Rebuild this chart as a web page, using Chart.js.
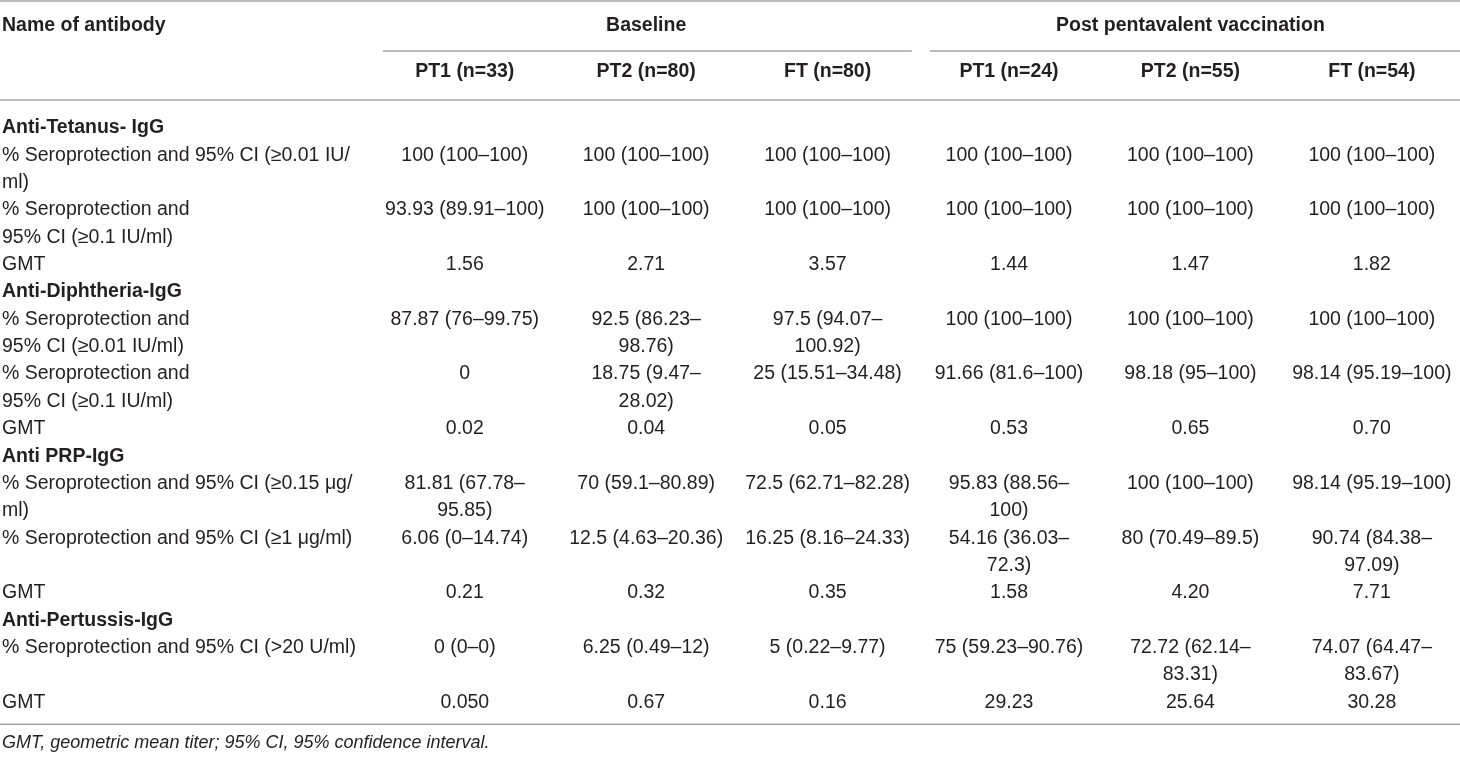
<!DOCTYPE html>
<html>
<head>
<meta charset="utf-8">
<script src="https://cdn.jsdelivr.net/npm/chart.js@4.4.1/dist/chart.umd.min.js"></script>
<style>
    html, body { margin: 0; padding: 0; background: #ffffff; }
    #wrap { width: 1460px; height: 757px; position: relative; }
</style>
</head>
<body>
<div id="wrap"><canvas id="antibodyTable"></canvas></div>
<script>
// table content
const nameHeader = 'Name of antibody';
const groups = ['Baseline', 'Post pentavalent vaccination'];
const columns = ['PT1 (n=33)', 'PT2 (n=80)', 'FT (n=80)', 'PT1 (n=24)', 'PT2 (n=55)', 'FT (n=54)'];
const antibodies = ['Anti-Tetanus- IgG', 'Anti-Diphtheria-IgG', 'Anti PRP-IgG', 'Anti-Pertussis-IgG'];
const footnote = 'GMT, geometric mean titer; 95% CI, 95% confidence interval.';

const tetanusLabels = ['% Seroprotection and 95% CI (\u22650.01 IU/\nml)', '% Seroprotection and\n95% CI (\u22650.1 IU/ml)', 'GMT'];
const tetanusSeroLow = ['100 (100–100)', '100 (100–100)', '100 (100–100)', '100 (100–100)', '100 (100–100)', '100 (100–100)'];
const tetanusSeroHigh = ['93.93 (89.91–100)', '100 (100–100)', '100 (100–100)', '100 (100–100)', '100 (100–100)', '100 (100–100)'];
const tetanusGMT = ['1.56', '2.71', '3.57', '1.44', '1.47', '1.82'];

const diphLabels = ['% Seroprotection and\n95% CI (\u22650.01 IU/ml)', '% Seroprotection and\n95% CI (\u22650.1 IU/ml)', 'GMT'];
const diphSeroLow = ['87.87 (76–99.75)', '92.5 (86.23–\n98.76)', '97.5 (94.07–\n100.92)', '100 (100–100)', '100 (100–100)', '100 (100–100)'];
const diphSeroHigh = ['0', '18.75 (9.47–\n28.02)', '25 (15.51–34.48)', '91.66 (81.6–100)', '98.18 (95–100)', '98.14 (95.19–100)'];
const diphGMT = ['0.02', '0.04', '0.05', '0.53', '0.65', '0.70'];

const prpLabels = ['% Seroprotection and 95% CI (\u22650.15 \u03bcg/\nml)', '% Seroprotection and 95% CI (\u22651 \u03bcg/ml)', 'GMT'];
const prpSeroLow = ['81.81 (67.78–\n95.85)', '70 (59.1–80.89)', '72.5 (62.71–82.28)', '95.83 (88.56–\n100)', '100 (100–100)', '98.14 (95.19–100)'];
const prpSeroHigh = ['6.06 (0–14.74)', '12.5 (4.63–20.36)', '16.25 (8.16–24.33)', '54.16 (36.03–\n72.3)', '80 (70.49–89.5)', '90.74 (84.38–\n97.09)'];
const prpGMT = ['0.21', '0.32', '0.35', '1.58', '4.20', '7.71'];

const pertLabels = ['% Seroprotection and 95% CI (>20 U/ml)', 'GMT'];
const pertSero = ['0 (0–0)', '6.25 (0.49–12)', '5 (0.22–9.77)', '75 (59.23–90.76)', '72.72 (62.14–\n83.31)', '74.07 (64.47–\n83.67)'];
const pertGMT = ['0.050', '0.67', '0.16', '29.23', '25.64', '30.28'];

const sections = [
    { name: antibodies[0], labels: tetanusLabels, rows: [tetanusSeroLow, tetanusSeroHigh, tetanusGMT] },
    { name: antibodies[1], labels: diphLabels, rows: [diphSeroLow, diphSeroHigh, diphGMT] },
    { name: antibodies[2], labels: prpLabels, rows: [prpSeroLow, prpSeroHigh, prpGMT] },
    { name: antibodies[3], labels: pertLabels, rows: [pertSero, pertGMT] }
];

// layout in scale units: x = column index (1..6), y = text line index
const X_MIN = -1.562, X_MAX = 6.486;
const Y_MIN = -4.68, Y_MAX = 23.0;
const LABEL_X = -1.551;
const HEAD_Y = -3.76, SUB_Y = -2.07;
const RULE_TOP = -4.64, RULE_GROUP = -2.815, RULE_HEAD = -1.024, RULE_BOTTOM = 21.8;
const NOTE_Y = 22.49;

const FONT = '"Liberation Sans", Arial, Helvetica, sans-serif';
const FONT_SIZE = 19.5;
const NOTE_SIZE = 18;
const TEXT_COLOR = '#231f20';
const RULE_COLOR = '#a3a3a3';

// build the points
const headingPoints = [];
const labelPoints = [];
const cellPoints = columns.map(() => []);
let line = 0;
sections.forEach(sec => {
    headingPoints.push({ x: LABEL_X, y: line, text: sec.name });
    line += 1;
    sec.rows.forEach((values, r) => {
        const label = sec.labels[r];
        labelPoints.push({ x: LABEL_X, y: line, text: label });
        let span = label.split('\n').length;
        values.forEach((v, c) => {
            cellPoints[c].push({ x: c + 1, y: line, text: v });
            span = Math.max(span, v.split('\n').length);
        });
        line += span;
    });
});

headingPoints.push({ x: LABEL_X, y: HEAD_Y, text: nameHeader });
const groupPoints = [
    { x: 2, y: HEAD_Y, text: groups[0] },
    { x: 5, y: HEAD_Y, text: groups[1] }
];
const columnPoints = columns.map((c, i) => ({ x: i + 1, y: SUB_Y, text: c }));
const notePoints = [{ x: LABEL_X, y: NOTE_Y, text: footnote }];

function textSet(points, align, style, size) {
    return { data: points, pointRadius: 0, showLine: false, textAlign: align, textStyle: style, textSize: size || FONT_SIZE };
}
function ruleSet(x0, x1, y) {
    return {
        data: [{ x: x0, y: y }, { x: x1, y: y }],
        showLine: true, pointRadius: 0, borderColor: RULE_COLOR, borderWidth: 1.5
    };
}

const datasets = [
    ruleSet(X_MIN, X_MAX, RULE_TOP),
    ruleSet(0.549, 3.465, RULE_GROUP),
    ruleSet(3.564, X_MAX, RULE_GROUP),
    ruleSet(X_MIN, X_MAX, RULE_HEAD),
    ruleSet(X_MIN, X_MAX, RULE_BOTTOM),
    textSet(headingPoints, 'left', 'bold'),
    textSet(groupPoints, 'center', 'bold'),
    textSet(columnPoints, 'center', 'bold'),
    textSet(labelPoints, 'left', 'normal'),
    textSet(notePoints, 'left', 'italic', NOTE_SIZE)
];
cellPoints.forEach(pts => datasets.push(textSet(pts, 'center', 'normal')));

const tableText = {
    id: 'tableText',
    afterDatasetsDraw(chart) {
        const ctx = chart.ctx;
        const yScale = chart.scales.y;
        const step = Math.abs(yScale.getPixelForValue(1) - yScale.getPixelForValue(0));
        ctx.save();
        ctx.fillStyle = TEXT_COLOR;
        ctx.textBaseline = 'middle';
        chart.data.datasets.forEach((ds, i) => {
            if (!ds.textStyle) return;
            const meta = chart.getDatasetMeta(i);
            ctx.textAlign = ds.textAlign;
            ctx.font = ds.textStyle + ' ' + ds.textSize + 'px ' + FONT;
            meta.data.forEach((el, j) => {
                ds.data[j].text.split('\n').forEach((t, k) => {
                    ctx.fillText(t, el.x, el.y + k * step);
                });
            });
        });
        ctx.restore();
    }
};

new Chart(document.getElementById('antibodyTable'), {
    type: 'scatter',
    data: { datasets: datasets },
    options: {
        responsive: true,
        maintainAspectRatio: false,
        animation: false,
        layout: { padding: 0 },
        plugins: { legend: { display: false }, tooltip: { enabled: false } },
        scales: {
            x: { type: 'linear', min: X_MIN, max: X_MAX, display: false },
            y: { type: 'linear', min: Y_MIN, max: Y_MAX, reverse: true, display: false }
        }
    },
    plugins: [tableText]
});
</script>
</body>
</html>
